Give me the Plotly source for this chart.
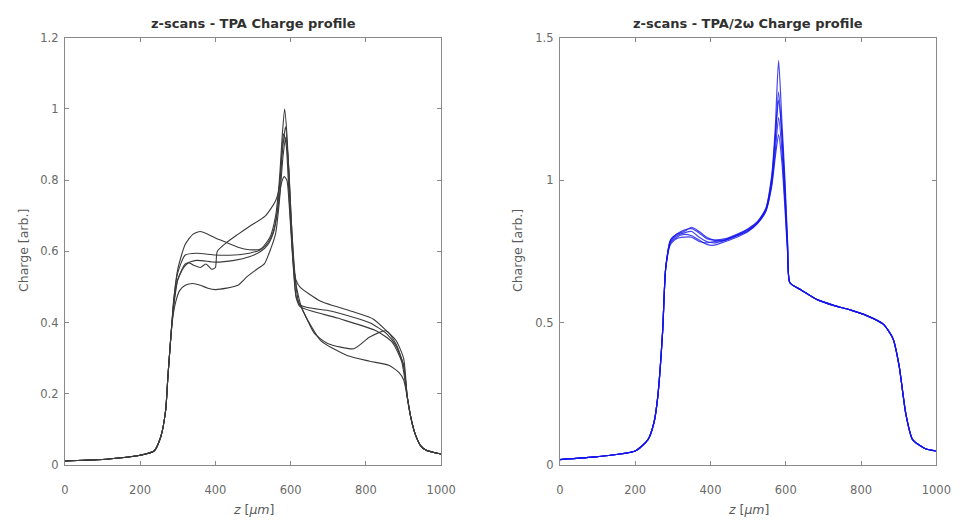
import plotly.graph_objects as go

# ---------------- left panel: TPA charge profiles (5 scans) ----------------
# shared rise at the start and shared fall-off at the end
tpa_head_z = [0, 50, 100, 150, 200, 237, 255, 268, 274, 281]
tpa_head_q = [0.012, 0.014, 0.016, 0.021, 0.028, 0.040, 0.080, 0.155, 0.250, 0.350]
tpa_tail_z = [910, 920, 930, 945, 960, 980, 1000]
tpa_tail_q = [0.19, 0.13, 0.09, 0.055, 0.042, 0.036, 0.032]

tpa_a_z = [290, 300, 320, 340, 360, 380, 400, 430, 460, 490, 520, 545, 560, 570, 578, 584,
           590, 598, 606, 614, 625, 680, 768, 820, 854, 880, 900]
tpa_a_q = [0.47, 0.55, 0.62, 0.648, 0.656, 0.648, 0.638, 0.625, 0.612, 0.605, 0.607, 0.64,
           0.70, 0.80, 0.93, 1.00, 0.93, 0.75, 0.58, 0.52, 0.50, 0.46, 0.43, 0.41, 0.378, 0.35, 0.30]

tpa_b_z = [290, 300, 316, 330, 345, 360, 375, 390, 400, 405, 430, 460, 490, 533, 559, 570,
           578, 586, 594, 602, 612, 625, 706, 810, 854, 880, 900]
tpa_b_q = [0.45, 0.52, 0.555, 0.568, 0.56, 0.555, 0.565, 0.55, 0.555, 0.60, 0.625, 0.648,
           0.67, 0.70, 0.74, 0.78, 0.88, 0.95, 0.85, 0.68, 0.53, 0.45, 0.433, 0.40, 0.37, 0.335, 0.28]

tpa_c_z = [290, 300, 320, 350, 400, 450, 490, 520, 540, 555, 565, 573, 581, 588, 596, 605,
           615, 625, 724, 828, 870, 895]
tpa_c_q = [0.47, 0.54, 0.59, 0.595, 0.59, 0.59, 0.595, 0.605, 0.625, 0.66, 0.72, 0.82,
           0.93, 0.90, 0.75, 0.60, 0.47, 0.445, 0.413, 0.377, 0.345, 0.29]

tpa_d_z = [290, 300, 320, 350, 400, 450, 490, 520, 540, 555, 565, 575, 583, 590, 598, 606,
           615, 630, 663, 698, 768, 810, 854, 880, 900]
tpa_d_q = [0.46, 0.52, 0.565, 0.575, 0.57, 0.575, 0.585, 0.60, 0.62, 0.655, 0.71, 0.79,
           0.81, 0.80, 0.70, 0.57, 0.47, 0.44, 0.37, 0.342, 0.327, 0.36, 0.377, 0.34, 0.28]

tpa_e_z = [285, 295, 305, 320, 340, 360, 380, 400, 430, 460, 485, 510, 530, 548, 560, 570,
           580, 587, 594, 602, 612, 630, 680, 750, 810, 862, 888, 900]
tpa_e_q = [0.40, 0.46, 0.49, 0.505, 0.51, 0.505, 0.497, 0.493, 0.497, 0.505, 0.53, 0.55,
           0.565, 0.61, 0.65, 0.74, 0.87, 0.92, 0.85, 0.68, 0.52, 0.44, 0.35, 0.308, 0.292,
           0.28, 0.26, 0.24]

# ---------------- right panel: TPA/2w charge profiles (5 scans) ----------------
tpa2w_head_z = [0, 100, 200, 234, 250, 260, 273, 281]
tpa2w_head_q = [0.02, 0.03, 0.05, 0.09, 0.15, 0.24, 0.47, 0.69]
tpa2w_tail_z = [611, 641, 685, 729, 771, 815, 859, 885, 901, 919, 937, 971, 1000]
tpa2w_tail_q = [0.64, 0.615, 0.58, 0.56, 0.545, 0.525, 0.495, 0.444, 0.35, 0.18, 0.09, 0.058, 0.05]

tpa2w_mid_z = [294, 310, 330, 350, 370, 390, 410, 440, 470, 500, 525, 547, 563, 572, 581, 590, 598, 605]
tpa2w_1_q = [0.79, 0.81, 0.825, 0.83, 0.815, 0.795, 0.79, 0.795, 0.81, 0.83, 0.855, 0.90, 1.02, 1.18, 1.42, 1.20, 1.00, 0.78]
tpa2w_2_q = [0.785, 0.805, 0.815, 0.82, 0.80, 0.785, 0.78, 0.79, 0.805, 0.825, 0.85, 0.895, 1.00, 1.14, 1.31, 1.15, 0.95, 0.76]
tpa2w_3_q = [0.78, 0.80, 0.81, 0.805, 0.79, 0.775, 0.772, 0.785, 0.80, 0.82, 0.848, 0.89, 0.99, 1.10, 1.22, 1.10, 0.92, 0.75]
tpa2w_4_q = [0.775, 0.795, 0.80, 0.80, 0.785, 0.78, 0.785, 0.79, 0.805, 0.822, 0.85, 0.892, 0.98, 1.08, 1.16, 1.06, 0.90, 0.74]
tpa2w_5_q = [0.79, 0.81, 0.82, 0.835, 0.82, 0.80, 0.79, 0.792, 0.808, 0.828, 0.853, 0.90, 1.01, 1.15, 1.28, 1.16, 0.97, 0.77]

fig = go.Figure()

tpa_scans = [(tpa_a_z, tpa_a_q), (tpa_b_z, tpa_b_q), (tpa_c_z, tpa_c_q),
             (tpa_d_z, tpa_d_q), (tpa_e_z, tpa_e_q)]
for z, q in tpa_scans:
    fig.add_trace(go.Scatter(x=tpa_head_z + z + tpa_tail_z, y=tpa_head_q + q + tpa_tail_q,
                             mode="lines", line=dict(color="#3a3a3a", width=1.1, shape="spline", smoothing=0.6),
                             xaxis="x", yaxis="y", showlegend=False))

for q in [tpa2w_1_q, tpa2w_2_q, tpa2w_3_q, tpa2w_4_q, tpa2w_5_q]:
    fig.add_trace(go.Scatter(x=tpa2w_head_z + tpa2w_mid_z + tpa2w_tail_z,
                             y=tpa2w_head_q + q + tpa2w_tail_q,
                             mode="lines", line=dict(color="rgba(20,20,235,0.8)", width=1.2, shape="spline", smoothing=0.6),
                             xaxis="x2", yaxis="y2", showlegend=False))

W, H = 968, 529
left_px = (62, 446)
right_px = (567, 951)
top_px, bot_px = 31.5, 470.7

axis_style = dict(showgrid=False, zeroline=False, showline=True, linecolor="#8a8a8a", linewidth=1,
                  mirror="ticks", ticks="inside", ticklen=4, tickcolor="#8a8a8a",
                  tickfont=dict(family="DejaVu Sans", size=11.5, color="#6a6a6a"))

fig.update_layout(
    width=W, height=H,
    margin=dict(l=0, r=0, t=0, b=0),
    paper_bgcolor="white", plot_bgcolor="white",
    xaxis=dict(domain=[left_px[0] / W, left_px[1] / W], range=[0, 1000], dtick=200, anchor="y",
               ticklabelstandoff=14, **axis_style),
    yaxis=dict(domain=[1 - bot_px / H, 1 - top_px / H], range=[0, 1.2], dtick=0.2, anchor="x",
               ticklabelstandoff=3, **axis_style),
    xaxis2=dict(domain=[right_px[0] / W, right_px[1] / W], range=[0, 1000], dtick=200, anchor="y2",
                ticklabelstandoff=14, **axis_style),
    yaxis2=dict(domain=[1 - bot_px / H, 1 - top_px / H], range=[0, 1.5], dtick=0.5, anchor="x2",
                ticklabelstandoff=3, **axis_style),
)

title_font = dict(family="DejaVu Sans", size=13, color="#303030")
label_font = dict(family="DejaVu Sans", size=12.5, color="#5a5a5a")
for cx, title in [((left_px[0] + left_px[1]) / 2, "<b>z-scans - TPA Charge profile</b>"),
                  ((right_px[0] + right_px[1]) / 2, "<b>z-scans - TPA/2ω Charge profile</b>")]:
    fig.add_annotation(x=cx / W, y=1 - 17 / H, xref="paper", yref="paper", text=title,
                       showarrow=False, font=title_font, xanchor="center", yanchor="middle")
    fig.add_annotation(x=cx / W, y=1 - 516 / H, xref="paper", yref="paper", text="<i>z</i> [<i>μm</i>]",
                       showarrow=False, font=label_font, xanchor="center", yanchor="middle")
for lx in [20, 524]:
    fig.add_annotation(x=lx / W, y=1 - 250 / H, xref="paper", yref="paper", text="Charge [arb.]",
                       showarrow=False, font=label_font, textangle=-90, xanchor="center", yanchor="middle")

fig.write_html("out.html", config=dict(displayModeBar=False),
               post_script="document.body.style.margin='0';")
